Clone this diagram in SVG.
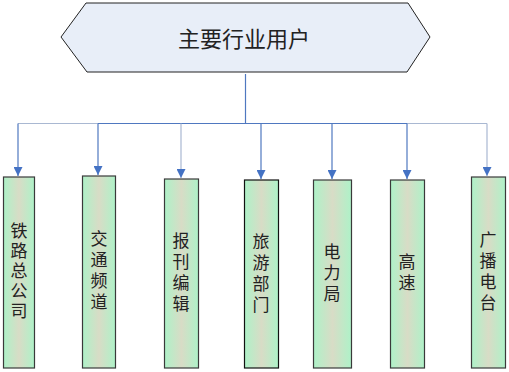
<svg xmlns="http://www.w3.org/2000/svg" width="509" height="372" viewBox="0 0 509 372">
<defs>
<linearGradient id="g" x1="0" y1="0" x2="1" y2="0">
<stop offset="0" stop-color="#aef2c8"/>
<stop offset="0.5" stop-color="#d8dcc6"/>
<stop offset="1" stop-color="#aef2c8"/>
</linearGradient>
<marker id="a" viewBox="0 0 10 10" refX="10" refY="5" markerWidth="9" markerHeight="9" markerUnits="userSpaceOnUse" orient="auto">
<path d="M0,0 L10,5 L0,10 Z" fill="#4472c4"/>
</marker>
<style>
.box{fill:url(#g);stroke:#3a3a3a;stroke-width:1.2}
.h{font-family:"Noto Sans CJK SC","Noto Sans CJK JP",sans-serif;font-size:22px;fill:#222;text-anchor:middle;dominant-baseline:central}
.t{font-family:"Noto Sans CJK SC","Noto Sans CJK JP",sans-serif;font-size:17px;fill:#222;text-anchor:middle;writing-mode:vertical-rl;text-orientation:upright;letter-spacing:4px}
.c{fill:none;stroke:#4f78c0;stroke-width:1.2}
.l{fill:none;stroke:#a9b8d2;stroke-width:1.2}
</style>
</defs>
<g id="root">
<polygon points="86,3 408,3 430,37 407,72 87,72 61,37" fill="#e8eef8" stroke="#222" stroke-width="1"/>
<text x="244" y="37" class="h">主要行业用户</text>
</g>
<g id="connectors">
<path class="c" d="M245.5,74 V123"/>
<path class="l" d="M18,123.5 H98"/>
<path class="c" d="M98,123.5 H407"/>
<path class="l" d="M407,123.5 H487"/>
<path class="c" d="M18,123.5 V176" marker-end="url(#a)"/>
<path class="c" d="M98,123.5 V175" marker-end="url(#a)"/>
<path class="l" d="M181,123.5 V178" marker-end="url(#a)"/>
<path class="c" d="M261,123.5 V179" marker-end="url(#a)"/>
<path class="c" d="M332,123.5 V179" marker-end="url(#a)"/>
<path class="c" d="M407,123.5 V179" marker-end="url(#a)"/>
<path class="l" d="M487,123.5 V176" marker-end="url(#a)"/>
</g>
<g id="n1"><rect class="box" x="3.5" y="177" width="31" height="191"/>
<text class="t" x="19" y="272" style="letter-spacing:3px">铁路总公司</text></g>
<g id="n2"><rect class="box" x="82.5" y="176" width="33" height="192"/>
<text class="t" x="99" y="272">交通频道</text></g>
<g id="n3"><rect class="box" x="164.5" y="179" width="34" height="189"/>
<text class="t" x="181" y="274">报刊编辑</text></g>
<g id="n4"><rect class="box" x="244.5" y="180" width="34" height="188" style="stroke:#111"/>
<text class="t" x="261" y="275">旅游部门</text></g>
<g id="n5"><rect class="box" x="313.5" y="180" width="38" height="188"/>
<text class="t" x="332" y="275">电力局</text></g>
<g id="n6"><rect class="box" x="390.5" y="180" width="34" height="188"/>
<text class="t" x="407" y="274">高速</text></g>
<g id="n7"><rect class="box" x="471.5" y="177" width="34" height="191"/>
<text class="t" x="488" y="273">广播电台</text></g>
</svg>
